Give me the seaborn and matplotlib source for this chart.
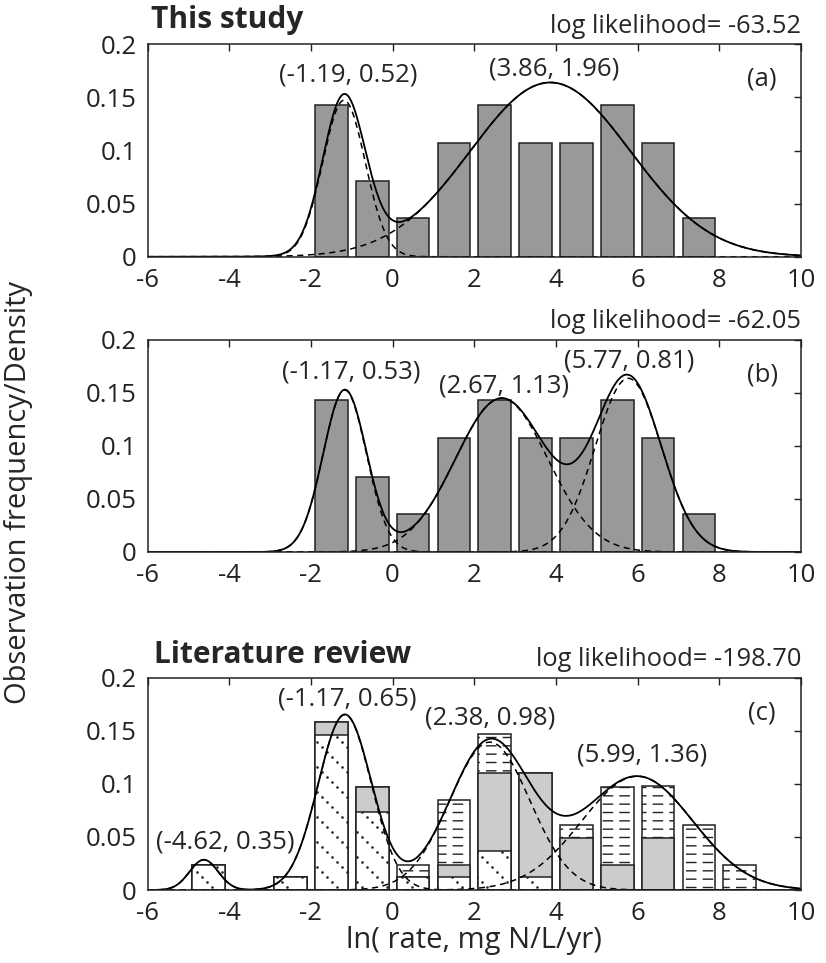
import numpy as np
import matplotlib
matplotlib.use('Agg')
import matplotlib.pyplot as plt
import matplotlib.hatch as mhatch
from matplotlib.path import Path
import seaborn as sns

# histogram bins (centres, bin width 1)
bins_ab = [-1.5, -0.5, 0.5, 1.5, 2.5, 3.5, 4.5, 5.5, 6.5, 7.5]
freq_ab = [0.143, 0.071, 0.036, 0.107, 0.143, 0.107, 0.107, 0.143, 0.107, 0.036]

bins_c = [-4.5, -3.5, -2.5, -1.5, -0.5, 0.5, 1.5, 2.5, 3.5, 4.5, 5.5, 6.5, 7.5, 8.5]
dotted_c = [0.024, 0, 0.012, 0.146, 0.073, 0.012, 0.012, 0.037, 0.012, 0, 0, 0, 0, 0]
gray_c = [0, 0, 0, 0.012, 0.024, 0, 0.012, 0.073, 0.098, 0.049, 0.024, 0.049, 0, 0]
dash_c = [0, 0, 0, 0, 0, 0.012, 0.061, 0.037, 0, 0.012, 0.073, 0.049, 0.061, 0.024]

# fitted gaussian mixtures (mean, sd, weight)
mu_a, sd_a, w_a = [-1.19, 3.86], [0.52, 1.96], [0.192, 0.806]
mu_b, sd_b, w_b = [-1.17, 2.67, 5.77], [0.53, 1.13, 0.81], [0.2025, 0.41, 0.332]
mu_c, sd_c, w_c = [-4.62, -1.17, 2.38, 5.99], [0.35, 0.65, 0.98, 1.36], [0.025, 0.269, 0.342, 0.365]

loglik = ['-63.52', '-62.05', '-198.70']
xticks = [-6, -4, -2, 0, 2, 4, 6, 8, 10]
yticks = [0, 0.05, 0.1, 0.15, 0.2]
yticklabels = ['0', '0.05', '0.1', '0.15', '0.2']


# custom hatches: short horizontal dashes for '-', dotted diagonals for '\'
class DashRows(mhatch.HatchPatternBase):
    def __init__(self, hatch, density):
        self.rows = hatch.count('-') * 12
        self.cols = 6
        self.num_vertices = self.rows * self.cols * 2

    def set_vertices_and_codes(self, vertices, codes):
        xx, yy = np.meshgrid(np.arange(self.cols) / self.cols,
                             (np.arange(self.rows) + 0.5) / self.rows)
        vertices[0::2, 0] = xx.ravel() + 0.2 / self.cols
        vertices[1::2, 0] = xx.ravel() + 0.75 / self.cols
        vertices[0::2, 1] = yy.ravel()
        vertices[1::2, 1] = yy.ravel()
        codes[0::2] = Path.MOVETO
        codes[1::2] = Path.LINETO


class DotDiagonals(mhatch.HatchPatternBase):
    def __init__(self, hatch, density):
        self.lines = hatch.count('\\') * 4
        self.steps = 20
        circ = Path.unit_circle()
        self.cv = circ.vertices * 0.006
        self.cc = circ.codes
        self.num_vertices = self.lines * self.steps * len(self.cv)

    def set_vertices_and_codes(self, vertices, codes):
        xs = (np.arange(self.steps) + 0.5) / self.steps
        parts = []
        for k in range(self.lines):
            ys = (k / self.lines - xs) % 1.0
            for x, y in zip(xs, ys):
                parts.append(self.cv + [x, y])
        vertices[:] = np.concatenate(parts)
        codes[:] = np.tile(self.cc, self.lines * self.steps)


mhatch._hatch_types = [DashRows if t is mhatch.HorizontalHatch else
                       DotDiagonals if t is mhatch.SouthEastHatch else t
                       for t in mhatch._hatch_types]

sns.set_style('white')
plt.rcParams['font.family'] = ['Open Sans', 'DejaVu Sans']
plt.rcParams['hatch.linewidth'] = 1.0

xs = np.linspace(-6, 10, 800)


def gauss(x, m, s, w):
    return w * np.exp(-0.5 * ((x - m) / s) ** 2) / (s * np.sqrt(2 * np.pi))


def draw_fit(ax, mus, sds, ws):
    total = np.zeros_like(xs)
    for m, s, w in zip(mus, sds, ws):
        comp = gauss(xs, m, s, w)
        total += comp
        sns.lineplot(x=xs, y=comp, ax=ax, color='k', linewidth=1.1,
                     linestyle=(0, (4, 3)))
    sns.lineplot(x=xs, y=total, ax=ax, color='k', linewidth=1.3)


def style_ax(ax, tag):
    ax.set_xlim(-6, 10)
    ax.set_ylim(0, 0.2)
    ax.set_xticks(xticks)
    ax.set_xticklabels([str(t) for t in xticks])
    ax.set_yticks(yticks)
    ax.set_yticklabels(yticklabels)
    ax.set_xlabel('')
    ax.set_ylabel('')
    ax.tick_params(direction='in', length=5, width=1, top=True, right=True,
                   labelsize=18.5, colors='#222222', pad=8)
    for sp in ax.spines.values():
        sp.set_visible(True)
        sp.set_color('#222222')
        sp.set_linewidth(1.1)
    ax.text(9.05, 0.167, tag, fontsize=18.5, ha='center', va='center')


fig = plt.figure(figsize=(8.26, 9.63), dpi=100)
left, width, height = 0.1786, 0.7912, 0.2206
ax_a = fig.add_axes([left, 0.7334, width, height])
ax_b = fig.add_axes([left, 0.4268, width, height])
ax_c = fig.add_axes([left, 0.0758, width, height])

bar_kw = dict(native_scale=True, width=0.8, saturation=1, errorbar=None,
              edgecolor='#222222', linewidth=1.1)

# (a) and (b): this study
for ax, mus, sds, ws in [(ax_a, mu_a, sd_a, w_a), (ax_b, mu_b, sd_b, w_b)]:
    sns.barplot(x=bins_ab, y=freq_ab, color='#999999', ax=ax, **bar_kw)
    draw_fit(ax, mus, sds, ws)

# (c): literature review, stacked groups drawn from the top layer down
top = np.array(dotted_c) + np.array(gray_c) + np.array(dash_c)
mid = np.array(dotted_c) + np.array(gray_c)
sns.barplot(x=bins_c, y=top, color='white', hatch='-', ax=ax_c, **bar_kw)
sns.barplot(x=bins_c, y=mid, color='#cccccc', ax=ax_c, **bar_kw)
sns.barplot(x=bins_c, y=dotted_c, color='white', hatch='\\', ax=ax_c, **bar_kw)
draw_fit(ax_c, mu_c, sd_c, w_c)

style_ax(ax_a, '(a)')
style_ax(ax_b, '(b)')
style_ax(ax_c, '(c)')

ann = 18.5
ax_a.text(-1.08, 0.171, '(-1.19, 0.52)', fontsize=ann, ha='center', va='center')
ax_a.text(3.95, 0.177, '(3.86, 1.96)', fontsize=ann, ha='center', va='center')
ax_b.text(-1.02, 0.169, '(-1.17, 0.53)', fontsize=ann, ha='center', va='center')
ax_b.text(2.73, 0.156, '(2.67, 1.13)', fontsize=ann, ha='center', va='center')
ax_b.text(5.79, 0.180, '(5.77, 0.81)', fontsize=ann, ha='center', va='center')
ax_c.text(-4.09, 0.0453, '(-4.62, 0.35)', fontsize=ann, ha='center', va='center')
ax_c.text(-1.12, 0.1797, '(-1.17, 0.65)', fontsize=ann, ha='center', va='center')
ax_c.text(2.40, 0.162, '(2.38, 0.98)', fontsize=ann, ha='center', va='center')
ax_c.text(6.10, 0.1275, '(5.99, 1.36)', fontsize=ann, ha='center', va='center')

for ax, ll in zip([ax_a, ax_b, ax_c], loglik):
    ax.text(1.0, 1.085, 'log likelihood= ' + ll, transform=ax.transAxes,
            fontsize=18.3, ha='right', va='center')

ax_a.text(0.005, 1.114, 'This study', transform=ax_a.transAxes,
          fontsize=21.5, fontweight='bold', ha='left', va='center')
ax_c.text(0.01, 1.105, 'Literature review', transform=ax_c.transAxes,
          fontsize=21.5, fontweight='bold', ha='left', va='center')

fig.text(0.022, 0.489, 'Observation frequency/Density', rotation=90,
         fontsize=21, ha='center', va='center')
fig.text(0.574, 0.023, 'ln( rate, mg N/L/yr)', fontsize=21,
         ha='center', va='center')

fig.savefig('out.png', dpi=100)
